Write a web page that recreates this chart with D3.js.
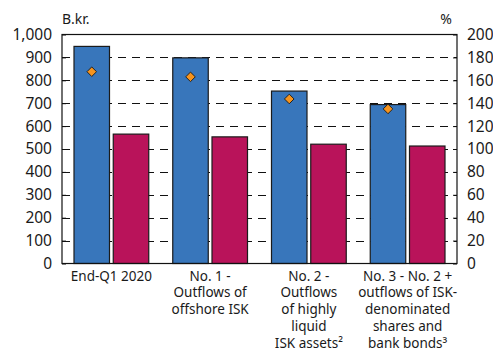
<!DOCTYPE html>
<html>
<head>
<meta charset="utf-8">
<script src="https://cdn.jsdelivr.net/npm/d3@7"></script>
<style>
  html, body { margin: 0; padding: 0; background: #fff; }
  svg { display: block; font-family: "Noto Sans", "Open Sans", sans-serif; }
</style>
</head>
<body>
<svg id="chart" width="493" height="354"></svg>
<script>
// Scenario categories (multi-line labels)
const categories = [
  ["End-Q1 2020"],
  ["No. 1 -", "Outflows of", "offshore ISK"],
  ["No. 2 -", "Outflows", "of highly", "liquid", "ISK assets\u00B2"],
  ["No. 3 - No. 2 +", "outflows of ISK-", "denominated", "shares and", "bank bonds\u00B3"]
];
// B.kr. (left axis)
const reservesValues = [948, 898, 753, 694];
const requirementValues = [565, 553, 521, 513];
// % (right axis)
const ratioValues = [167.5, 163, 143.7, 135];

const leftTicks = [0, 100, 200, 300, 400, 500, 600, 700, 800, 900, 1000];
const rightTicks = [0, 20, 40, 60, 80, 100, 120, 140, 160, 180, 200];
const seriesKeys = ["reserves", "requirement"];
const seriesColors = { reserves: "#3876BB", requirement: "#B9135A" };

const svg = d3.select("#chart");
const margin = { left: 62, right: 36, top: 34.5, bottom: 90.5 };
const W = 493, H = 354;
const x0 = margin.left, x1 = W - margin.right;
const yTop = margin.top, yBot = H - margin.bottom;

const yL = d3.scaleLinear().domain([0, 1000]).range([yBot, yTop]);
const yR = d3.scaleLinear().domain([0, 200]).range([yBot, yTop]);

const xGroup = d3.scaleBand()
  .domain(d3.range(categories.length))
  .range([x0, x1])
  .paddingInner(0.243)
  .paddingOuter(0.1215);
const xSeries = d3.scaleBand()
  .domain(seriesKeys)
  .range([0, xGroup.bandwidth()])
  .paddingInner(0.0955);

// dashed gridlines
svg.append("g")
  .selectAll("line")
  .data(leftTicks.filter(t => t > 0 && t < 1000))
  .join("line")
  .attr("x1", x0).attr("x2", x1)
  .attr("y1", d => Math.round(yL(d)) + 0.5)
  .attr("y2", d => Math.round(yL(d)) + 0.5)
  .attr("stroke", "#111")
  .attr("stroke-width", 1)
  .attr("stroke-dasharray", "8,6");

// bars
const rows = categories.map((c, i) => ({
  i,
  reserves: reservesValues[i],
  requirement: requirementValues[i],
  ratio: ratioValues[i]
}));

const groups = svg.append("g")
  .selectAll("g")
  .data(rows)
  .join("g")
  .attr("transform", d => `translate(${xGroup(d.i)},0)`);

groups.selectAll("rect")
  .data(d => seriesKeys.map(k => ({ key: k, value: d[k] })))
  .join("rect")
  .attr("x", d => xSeries(d.key))
  .attr("y", d => yL(d.value))
  .attr("width", xSeries.bandwidth())
  .attr("height", d => yL(0) - yL(d.value))
  .attr("fill", d => seriesColors[d.key])
  .attr("stroke", "#1b1b1b")
  .attr("stroke-width", 1.2);

// diamonds (right axis)
const ds = 4.8;
groups.append("path")
  .attr("d", d => {
    const cx = xSeries("reserves") + xSeries.bandwidth() / 2;
    const cy = yR(d.ratio);
    return `M${cx},${cy - ds}L${cx + ds},${cy}L${cx},${cy + ds}L${cx - ds},${cy}Z`;
  })
  .attr("fill", "#F7941D")
  .attr("stroke", "#222")
  .attr("stroke-width", 1);

// frame
svg.append("rect")
  .attr("x", x0).attr("y", yTop)
  .attr("width", x1 - x0).attr("height", yBot - yTop)
  .attr("fill", "none")
  .attr("stroke", "#111")
  .attr("stroke-width", 1.2);

// axes
const leftAxis = d3.axisLeft(yL)
  .tickValues(leftTicks)
  .tickSize(-4)
  .tickPadding(10)
  .tickFormat(d3.format(","));
const gL = svg.append("g").attr("transform", `translate(${x0},0)`).call(leftAxis);

const rightAxis = d3.axisRight(yR)
  .tickValues(rightTicks)
  .tickSize(-4)
  .tickPadding(10)
  .tickFormat(d3.format("d"));
const gR = svg.append("g").attr("transform", `translate(${x1},0)`).call(rightAxis);

[gL, gR].forEach(g => {
  g.select(".domain").remove();
  g.selectAll(".tick line").attr("stroke", "#111");
  g.selectAll("text")
    .attr("font-size", 15.5)
    .attr("fill", "#1a1a1a")
    .attr("font-family", "'Noto Sans', sans-serif");
});

// unit labels
svg.append("text").attr("x", x0).attr("y", 24)
  .attr("font-size", 14).attr("fill", "#1a1a1a").text("B.kr.");
svg.append("text").attr("x", 452).attr("y", 24).attr("text-anchor", "end")
  .attr("font-size", 14).attr("fill", "#1a1a1a").text("%");

// category labels
const catG = svg.append("g")
  .selectAll("text")
  .data(categories)
  .join("text")
  .attr("text-anchor", "middle")
  .attr("font-size", 13.5)
  .attr("fill", "#1a1a1a")
  .attr("transform", (d, i) => `translate(${xGroup(i) + xGroup.bandwidth() / 2},${yBot + 17})`);

catG.selectAll("tspan")
  .data(d => d)
  .join("tspan")
  .attr("x", 0)
  .attr("y", (d, j) => j * 16.8)
  .text(d => d);
</script>
</body>
</html>
